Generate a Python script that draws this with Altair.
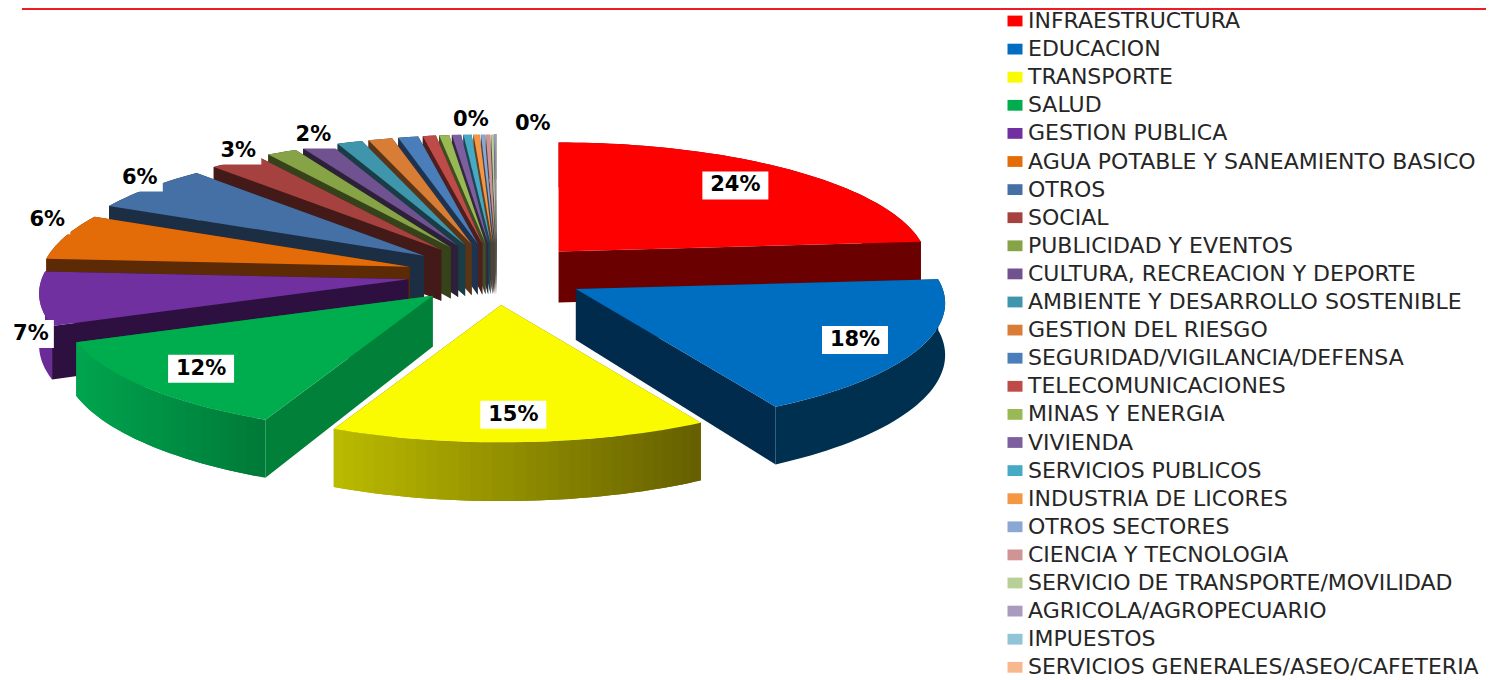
import math
import altair as alt
import pandas as pd

categories = ["INFRAESTRUCTURA", "EDUCACION", "TRANSPORTE", "SALUD", "GESTION PUBLICA",
              "AGUA POTABLE Y SANEAMIENTO BASICO", "OTROS", "SOCIAL", "PUBLICIDAD Y EVENTOS",
              "CULTURA, RECREACION Y DEPORTE", "AMBIENTE Y DESARROLLO SOSTENIBLE", "GESTION DEL RIESGO",
              "SEGURIDAD/VIGILANCIA/DEFENSA", "TELECOMUNICACIONES", "MINAS Y ENERGIA", "VIVIENDA",
              "SERVICIOS PUBLICOS", "INDUSTRIA DE LICORES", "OTROS SECTORES", "CIENCIA Y TECNOLOGIA",
              "SERVICIO DE TRANSPORTE/MOVILIDAD", "AGRICOLA/AGROPECUARIO", "IMPUESTOS",
              "SERVICIOS GENERALES/ASEO/CAFETERIA"]
values = [24, 18, 14.6, 12.2, 7, 6.1, 6.2, 2.6, 1.5, 1.45, 1.25, 1.2, 1.0, 0.65, 0.5, 0.45, 0.4, 0.3,
          0.18, 0.22, 0.12, 0.06, 0.04, 0.02]
colors = ["#ff0000", "#006ec0", "#fafa00", "#00ad4e", "#7030a0", "#e36c09", "#4570a6", "#a54240",
          "#86a345", "#6f528f", "#3e95ac", "#d87d36", "#4a7ebb", "#be4b48", "#98b954", "#7d5fa0",
          "#46aac5", "#f59645", "#8aa8d4", "#d09494", "#b8cf98", "#a99bc0", "#90c4d6", "#f8b88e"]
side_colors = ["#6b0000", "#002b4d", "#666000", "#008038", "#2e1040", "#5c2a04", "#1c2e44", "#441a18",
               "#364219", "#2d213a", "#193d46", "#5a3416", "#1d3350", "#4f1f1e", "#3f4d22", "#342842",
               "#1d4752", "#66401d", "#3a4658", "#57403e", "#4d5640", "#47414f", "#3d5158", "#675040"]
# left/right shades of the outer rim, where it differs from the side colour
rim_shades = {1: ("#00304f", "#00304f"), 2: ("#bcbc00", "#666000"), 3: ("#00a54f", "#007a38"),
              4: ("#6a2b96", "#6a2b96")}
labelled = [0, 1, 2, 3, 4, 5, 6, 7, 8, 22, 23]
label_nudge = {0: (-6, 0), 1: (5, 3), 2: (-3, 0), 3: (-1, 0), 4: (21, 34), 5: (10, -14), 6: (13, -5), 7: (19, -4),
               8: (45, -10), 22: (-25, -5), 23: (36, -1)}

# 3D projection of the exploded pie (plot-area pixels)
CX, CY, EX, EY = 489, 266, 90, 31
RX, RY, PERSP, LIFT, H = 366, 121, 0.132, 2, 51


def hex2rgb(c):
    return [int(c[i:i + 2], 16) for i in (1, 3, 5)]


def mix(a, b, f):
    ra, rb = hex2rgb(a), hex2rgb(b)
    return "#%02x%02x%02x" % tuple(round(x + (y - x) * f) for x, y in zip(ra, rb))


def apex(mid):
    return (CX + EX * math.sin(mid), CY - EY * math.cos(mid))


def rim(ax, ay, t, r=1.0):
    u = -math.cos(t)
    s = 1 / (1 - PERSP * u)
    return (ax + RX * r * math.sin(t) * s, ay + (RY * u * s - LIFT) * r), s


def feature(cat, ring, fill):
    ring = [list(p) for p in ring] + [list(ring[0])]
    return {"type": "Feature", "properties": {"cat": cat, "fill": fill},
            "geometry": {"type": "Polygon", "coordinates": [ring]}}


total = sum(values)
spans, acc = [], 0
for v in values:
    spans.append((acc / total * 2 * math.pi, (acc + v) / total * 2 * math.pi))
    acc += v

tops, walls_by_slice, label_rows = [], [], []
for i, (a0, a1) in enumerate(spans):
    mid = (a0 + a1) / 2
    ax, ay = apex(mid)
    n = max(2, int((a1 - a0) / math.radians(1.5)))
    angles = [a0 + (a1 - a0) * k / n for k in range(n + 1)]
    pts = [rim(ax, ay, t) for t in angles]
    edge = [p for p, _ in pts]
    tops.append(feature(categories[i], [(ax, ay)] + edge, colors[i]))
    walls = []
    for (p, s) in (pts[0], pts[-1]):
        walls.append(feature(categories[i], [(ax, ay), p, (p[0], p[1] + H * s), (ax, ay + H)], side_colors[i]))
    left, right = rim_shades.get(i, (side_colors[i], side_colors[i]))
    xs = [p[0] for p in edge]
    x0, x1 = min(xs), max(xs)
    if left == right:
        lower = [(p[0], p[1] + H * s) for p, s in reversed(pts)]
        walls.append(feature(categories[i], edge + lower, left))
    else:
        # graded rim: each strip reaches under the next one so no seams show
        for k in range(n):
            run = pts[k:k + 3]
            f = (run[0][0][0] - x0) / max(x1 - x0, 1)
            lower = [(p[0], p[1] + H * s) for p, s in reversed(run)]
            walls.append(feature(categories[i], [p for p, _ in run] + lower, mix(left, right, f)))
    walls_by_slice.append((-math.cos(mid), walls))
    if i in labelled:
        r = 0.8 if values[i] >= 10 else 1.08
        (lx, ly), _ = rim(ax, ay, mid, r)
        dx, dy = label_nudge.get(i, (0, 0))
        txt = f"{round(values[i])}%"
        hw = 33 if len(txt) == 3 else 23
        label_rows.append({"x": lx + dx, "y": ly + dy, "x0": lx + dx - hw, "x1": lx + dx + hw,
                           "y0": ly + dy - 14, "y1": ly + dy + 14, "t": txt})

wall_features = [f for _, w in sorted(walls_by_slice, key=lambda e: e[0]) for f in w]
labels = pd.DataFrame(label_rows)

proj = dict(type="identity", scale=1, translate=[0, 0], reflectY=False)


def geo(features):
    return alt.InlineData(values={"type": "FeatureCollection", "features": features},
                          format=alt.DataFormat(property="features", type="json"))


wall_layer = (alt.Chart(geo(wall_features)).mark_geoshape(strokeWidth=0)
              .encode(fill=alt.Fill("properties.fill:N", scale=None, legend=None))
              .project(**proj))

top_layer = (alt.Chart(geo(tops)).mark_geoshape(strokeWidth=0)
             .encode(color=alt.Color("properties.cat:N", sort=categories,
                                     scale=alt.Scale(domain=categories, range=colors),
                                     legend=alt.Legend(title=None, orient="none", legendX=996, legendY=2,
                                                       columns=1, padding=0, zindex=1,
                                                       symbolType="M-1,-0.72H1V0.72H-1Z", symbolSize=225,
                                                       symbolStrokeWidth=0, symbolOpacity=1, labelFontSize=22,
                                                       labelFont="DejaVu Sans", labelColor="#262626",
                                                       labelLimit=600, labelOffset=2, rowPadding=6.1,
                                                       values=categories)))
             .project(**proj))

boxes = (alt.Chart(labels).mark_rect(color="white")
         .encode(x=alt.X("x0:Q", scale=None), x2="x1:Q", y=alt.Y("y0:Q", scale=None), y2="y1:Q"))
texts = (alt.Chart(labels).mark_text(font="DejaVu Sans", fontWeight="bold", fontSize=21, color="black")
         .encode(x=alt.X("x:Q", scale=None), y=alt.Y("y:Q", scale=None), text="t:N"))
frame = alt.Chart(pd.DataFrame({"a": [0]})).mark_rule(color="#ee1c25", strokeWidth=2).encode(
    x=alt.value(14), x2=alt.value(1478), y=alt.value(1))

chart = (alt.layer(wall_layer, top_layer, boxes, texts, frame)
         .properties(width=1478, height=672, padding=0, autosize=alt.AutoSizeParams(type="none"))
         .configure_view(stroke=None))

chart.save("out.html", embed_options={"renderer": "svg", "actions": False})
